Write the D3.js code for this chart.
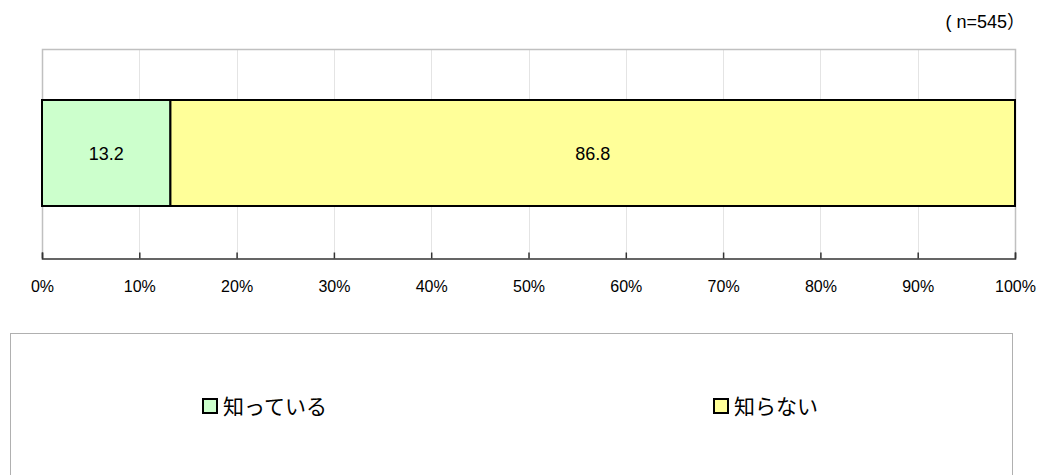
<!DOCTYPE html>
<html><head><meta charset="utf-8">
<script src="https://cdn.jsdelivr.net/npm/d3@7"></script>
<style>body{margin:0;background:#fff}svg{display:block;font-family:"Liberation Sans","Noto Sans CJK JP",sans-serif}</style>
</head><body>
<svg id="c" width="1037" height="475"></svg>
<script>
const categories = ["知っている", "知らない"];
const values = [13.2, 86.8];
const colors = ["#ccffcc", "#ffff99"];
const tickValues = [0,10,20,30,40,50,60,70,80,90,100];
const nLabel = "( n=545）";

const svg = d3.select("#c");
const L = 42, R = 1015, T = 49, B = 258;
const x = d3.scaleLinear().domain([0,100]).range([L,R]);
const y0 = 100, y1 = 206;

// gridlines
svg.append("g").selectAll("line").data(tickValues.slice(1,-1)).join("line")
  .attr("x1", d=>Math.round(x(d))+0.5).attr("x2", d=>Math.round(x(d))+0.5).attr("y1", T).attr("y2", B)
  .attr("stroke", "#e4e4e4").attr("stroke-width", 1);
// frame
svg.append("path").attr("d", `M${L+0.5},${B}V${T+0.5}H${R+0.5}V${B}`)
  .attr("fill","none").attr("stroke","#c0c0c0").attr("stroke-width",1.5);

// bars
const stack = [];
let acc = 0;
values.forEach((v,i)=>{stack.push({c:categories[i], v, s:acc, e:acc+v, col:colors[i]}); acc+=v;});
svg.append("g").selectAll("rect").data(stack).join("rect")
  .attr("x", d=>x(d.s)).attr("width", d=>x(d.e)-x(d.s))
  .attr("y", y0).attr("height", y1-y0)
  .attr("fill", d=>d.col).attr("stroke", "#000").attr("stroke-width", 2);
svg.append("g").selectAll("text").data(stack).join("text")
  .attr("x", d=>(x(d.s)+x(d.e))/2).attr("y", (y0+y1)/2+1).attr("dy","0.35em")
  .attr("text-anchor","middle").attr("font-size",18).attr("fill","#000")
  .text(d=>d.v.toFixed(1));

// axis
const axis = d3.axisBottom(x).tickValues(tickValues).tickSize(-6).tickFormat(d=>d+"%");
const ag = svg.append("g").attr("transform", `translate(0,${B+0.5})`).call(axis);
ag.select(".domain").attr("stroke","#333").attr("stroke-width",1.5);
ag.selectAll(".tick line").attr("stroke","#333").attr("stroke-width",1.5);
ag.selectAll(".tick text").attr("y", 28).attr("dy","0.35em").attr("font-size",16).attr("fill","#000")
  .attr("font-family","\"Liberation Sans\",sans-serif");

// n label
svg.append("text").attr("x", 1025).attr("y", 22).attr("dy","0.35em").attr("text-anchor","end")
  .attr("font-size",18).text(nLabel);

// legend
svg.append("rect").attr("x",10.5).attr("y",333.5).attr("width",1002).attr("height",160)
  .attr("fill","none").attr("stroke","#b0b0b0").attr("stroke-width",1);
const legX = [202, 713];
const lg = svg.append("g").selectAll("g").data(categories).join("g")
  .attr("transform",(d,i)=>`translate(${legX[i]},398)`);
lg.append("rect").attr("x",1).attr("y",1).attr("width",14).attr("height",14)
  .attr("fill",(d,i)=>colors[i]).attr("stroke","#000").attr("stroke-width",2);
lg.append("text").attr("x",21).attr("y",8).attr("dy","0.36em").attr("font-size",21)
  .attr("font-family","\"Noto Sans CJK JP\",sans-serif").text(d=>d);
</script>
</body></html>
